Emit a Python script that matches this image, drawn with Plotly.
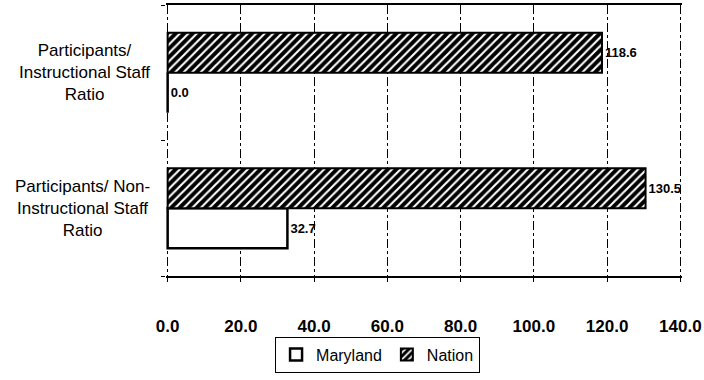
import plotly.graph_objects as go

categories = ["Participants/ Instructional Staff Ratio",
              "Participants/ Non-Instructional Staff Ratio"]
category_labels = ["Participants/<br>Instructional Staff<br>Ratio",
                   "Participants/ Non-<br>Instructional Staff<br>Ratio"]
maryland = [0.0, 32.7]
nation = [118.6, 130.5]
x_ticks = [0, 20, 40, 60, 80, 100, 120, 140]

FONT = "Liberation Sans, Arial, sans-serif"

fig = go.Figure()
fig.add_trace(go.Bar(
    name="Maryland", y=categories, x=maryland, orientation="h",
    marker=dict(color="white", line=dict(color="black", width=2.5)),
    texttemplate="%{x:.1f}", textposition="outside", cliponaxis=False,
    textfont=dict(family=FONT, size=13, color="black", weight="bold"),
))
fig.add_trace(go.Bar(
    name="Nation", y=categories, x=nation, orientation="h",
    marker=dict(color="black", line=dict(color="black", width=2),
                pattern=dict(shape="/", fgcolor="white", bgcolor="black",
                             fillmode="replace", size=6, solidity=0.35)),
    texttemplate="%{x:.1f}", textposition="outside", cliponaxis=False,
    textfont=dict(family=FONT, size=13, color="black", weight="bold"),
))

for cat, lab in zip(categories, category_labels):
    fig.add_annotation(x=0, xref="paper", y=cat, yref="y", text=lab,
                       xanchor="right", xshift=-14, showarrow=False, align="center",
                       font=dict(family=FONT, size=17, color="black"))

fig.update_layout(
    width=704, height=380,
    margin=dict(l=166, r=22, t=5, b=104, autoexpand=False),
    paper_bgcolor="white", plot_bgcolor="white",
    barmode="group", bargap=0.41, bargroupgap=0,
    font=dict(family=FONT, color="black"),
    legend=dict(orientation="h", x=0.41, xanchor="center", y=-0.29, yanchor="middle",
                bordercolor="black", borderwidth=1, traceorder="normal",
                font=dict(family=FONT, size=16, color="black"),
                itemwidth=30, tracegroupgap=0),
    xaxis=dict(range=[-0.45, 140.45], tickvals=x_ticks, ticktext=[f"{v:.1f}" for v in x_ticks],
               showgrid=True, gridcolor="black", gridwidth=1, griddash="dashdot",
               zeroline=False, showline=True, linecolor="black", linewidth=2, mirror=True,
               ticks="outside", ticklen=4, tickcolor="black", ticklabelstandoff=30,
               tickfont=dict(family=FONT, size=17, color="black", weight="bold")),
    yaxis=dict(categoryorder="array", categoryarray=categories[::-1],
               showticklabels=False, showgrid=False, zeroline=False, showline=False,
               ticks="outside", tickson="boundaries", ticklen=4, tickcolor="black"),
)

fig.write_html("out.html", config={"displayModeBar": False},
               post_script="document.body.style.margin='0';")
